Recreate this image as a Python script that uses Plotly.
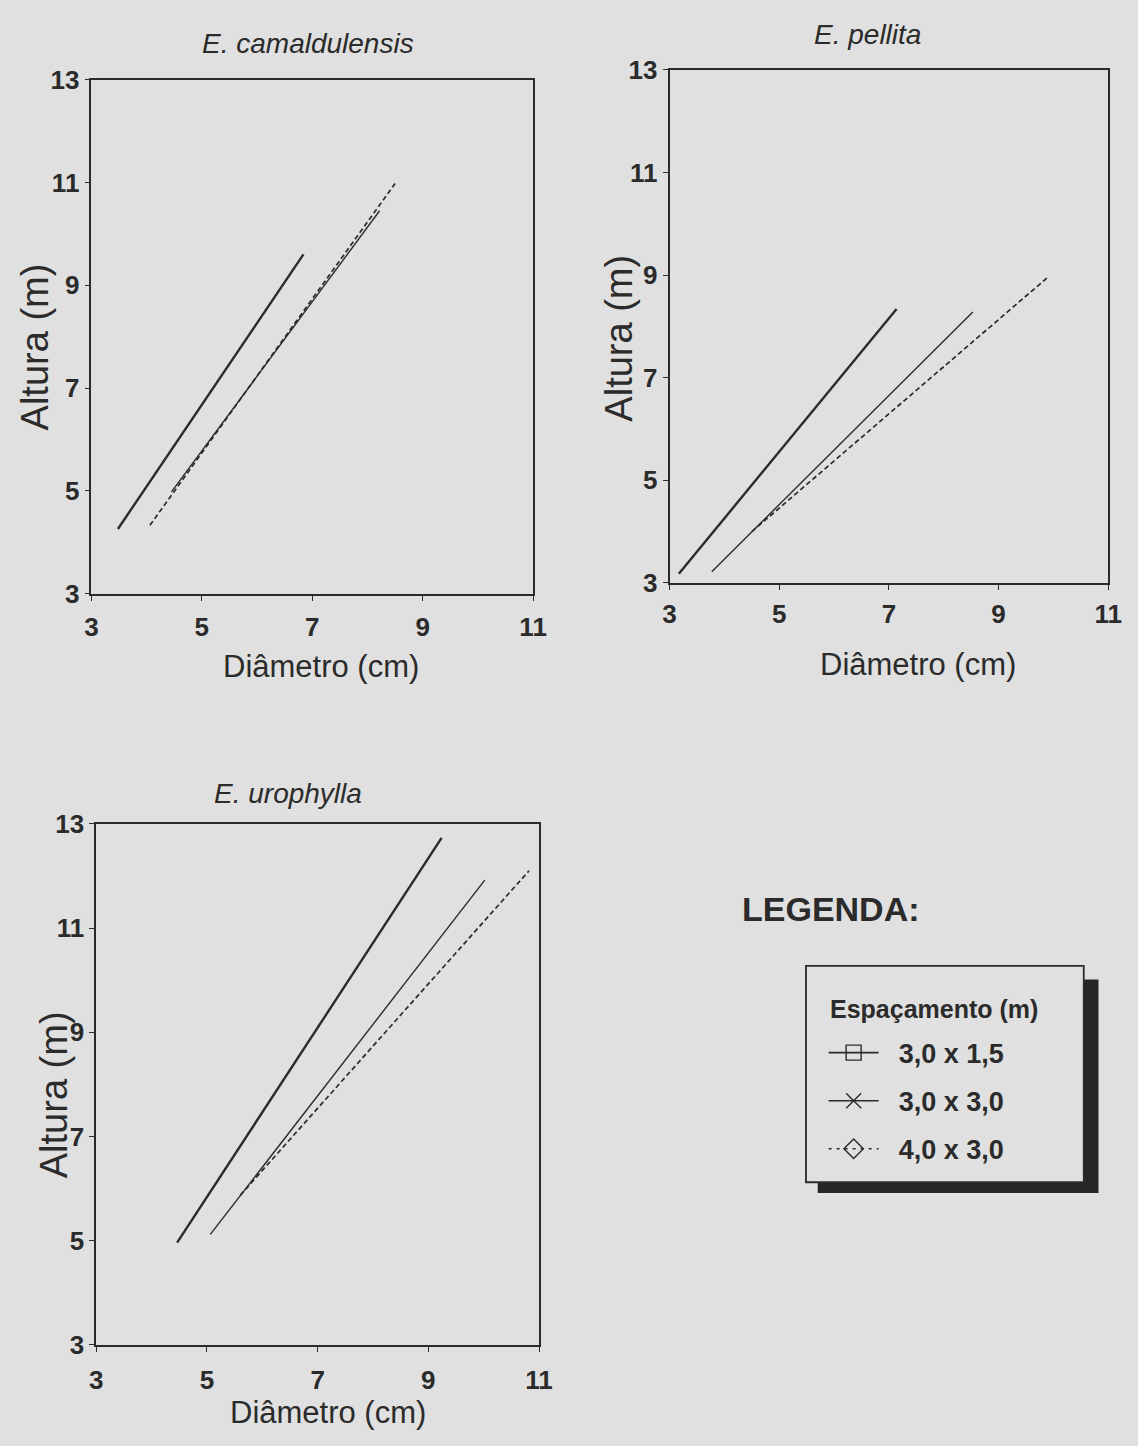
import plotly.graph_objects as go

W, H = 1138, 1446
BG = "#e0e0e0"
INK = "#2b2b2b"
FONT = "Liberation Sans"

# ---- data ----
species = ["E. camaldulensis", "E. pellita", "E. urophylla"]
spacings = ["3,0 x 1,5", "3,0 x 3,0", "4,0 x 3,0"]

cam_x_15 = [3.48, 6.84];  cam_y_15 = [4.26, 9.60]
cam_x_30 = [4.45, 8.22];  cam_y_30 = [4.98, 10.45]
cam_x_43 = [4.06, 8.50];  cam_y_43 = [4.33, 10.98]

pel_x_15 = [3.17, 7.14];  pel_y_15 = [3.18, 8.34]
pel_x_30 = [3.77, 8.53];  pel_y_30 = [3.22, 8.28]
pel_x_43 = [4.50, 9.90];  pel_y_43 = [4.00, 8.96]

uro_x_15 = [4.46, 9.24];  uro_y_15 = [4.96, 12.73]
uro_x_30 = [5.06, 10.02]; uro_y_30 = [5.12, 11.92]
uro_x_43 = [5.60, 10.82]; uro_y_43 = [5.87, 12.10]

x_ticks = [3, 5, 7, 9, 11]
y_ticks = [3, 5, 7, 9, 11, 13]

panels = [
    (cam_x_15, cam_y_15, cam_x_30, cam_y_30, cam_x_43, cam_y_43),
    (pel_x_15, pel_y_15, pel_x_30, pel_y_30, pel_x_43, pel_y_43),
    (uro_x_15, uro_y_15, uro_x_30, uro_y_30, uro_x_43, uro_y_43),
]

styles = [
    dict(color=INK, width=2.4, dash="solid"),
    dict(color=INK, width=1.4, dash="solid"),
    dict(color=INK, width=1.7, dash="5px,3px"),
]
symbols = ["square-open", "x-thin-open", "diamond-open"]

# plot-area boxes in pixels: (left, right, top, bottom) and x tick-label offsets
boxes = [(86, 536, 66, 591), (675, 1122, 56, 580), (91, 542, 826, 1358)]
x_standoff = [4, 2, 6]

def px2x(p):
    return p / W

def px2y(p):
    return 1 - p / H

fig = go.Figure()

for i, (box, series) in enumerate(zip(boxes, panels)):
    ax = "" if i == 0 else str(i + 1)
    xs = [series[0], series[2], series[4]]
    ys = [series[1], series[3], series[5]]
    for k in range(3):
        fig.add_trace(go.Scatter(
            x=xs[k], y=ys[k], mode="lines", line=styles[k],
            xaxis="x" + ax, yaxis="y" + ax, showlegend=False,
            hoverinfo="skip"))
    l, r, t, b = box
    axis_common = dict(
        showline=True, linecolor=INK, linewidth=1.7, mirror=True,
        showgrid=False, zeroline=False, ticks="outside", ticklen=5,
        tickwidth=1.4, tickcolor=INK,
        tickfont=dict(family=FONT, size=26, color=INK, weight="bold"),
    )
    fig.layout["xaxis" + ax] = dict(
        axis_common, domain=[px2x(l), px2x(r)], range=[3, 11],
        tickvals=x_ticks, ticklabelstandoff=x_standoff[i],
        anchor="y" + ax)
    fig.layout["yaxis" + ax] = dict(
        axis_common, domain=[px2y(b), px2y(t)], range=[3, 13],
        tickvals=y_ticks, ticklabelstandoff=0,
        anchor="x" + ax)

# legend entries (legend-only traces carrying the key symbols)
NB = "\u00a0"
for k in range(3):
    fig.add_trace(go.Scatter(
        x=[None], y=[None], mode="lines+markers", name=NB * 2 + spacings[k],
        line=dict(color=INK, width=1.6, dash=("solid" if k < 2 else "3px,5px")),
        marker=dict(symbol=symbols[k], size=15, color=INK,
                    line=dict(width=1.4, color=INK)),
        legendgroup=str(k)))

ann = []
title_pos = [(307, 29), (877, 20), (286, 795)]
for name, (x, y) in zip(species, title_pos):
    ann.append(dict(text="<i>" + name + "</i>", x=px2x(x), y=px2y(y),
                    font=dict(family=FONT, size=28, color=INK)))
xtitle_pos = [(320, 665), (928, 663), (327, 1427)]
ytitle_pos = [(29, 339), (624, 330), (48, 1103)]
for (x, y) in xtitle_pos:
    ann.append(dict(text="Diâmetro (cm)", x=px2x(x), y=px2y(y),
                    font=dict(family=FONT, size=31, color=INK)))
for (x, y) in ytitle_pos:
    ann.append(dict(text="Altura (m)", x=px2x(x), y=px2y(y), textangle=-90,
                    font=dict(family=FONT, size=38, color=INK)))
ann.append(dict(text="LEGENDA:", x=px2x(839), y=px2y(913),
                font=dict(family=FONT, size=34, color=INK, weight="bold")))
ann.append(dict(text="Espaçamento (m)", x=px2x(944), y=px2y(1015),
                font=dict(family=FONT, size=25, color=INK, weight="bold")))
for a in ann:
    a.update(xref="paper", yref="paper", showarrow=False,
             xanchor="center", yanchor="middle")

shapes = [
    dict(type="rect", xref="paper", yref="paper",
         x0=px2x(826), x1=px2x(1112), y0=px2y(1203), y1=px2y(985),
         fillcolor="#262626", line=dict(width=0), layer="above"),
    dict(type="rect", xref="paper", yref="paper",
         x0=px2x(814), x1=px2x(1097), y0=px2y(1192), y1=px2y(971),
         fillcolor=BG, line=dict(width=1.8, color=INK), layer="above"),
]

fig.update_layout(
    width=W, height=H, margin=dict(l=0, r=0, t=0, b=0),
    paper_bgcolor=BG, plot_bgcolor=BG,
    annotations=ann, shapes=shapes,
    legend=dict(
        x=px2x(832), y=px2y(1035), xanchor="left", yanchor="top",
        bgcolor="rgba(0,0,0,0)", borderwidth=0,
        font=dict(family=FONT, size=27, color=INK, weight="bold"),
        itemwidth=50, tracegroupgap=10, itemclick=False,
    ),
)

fig.write_html("out.html")
